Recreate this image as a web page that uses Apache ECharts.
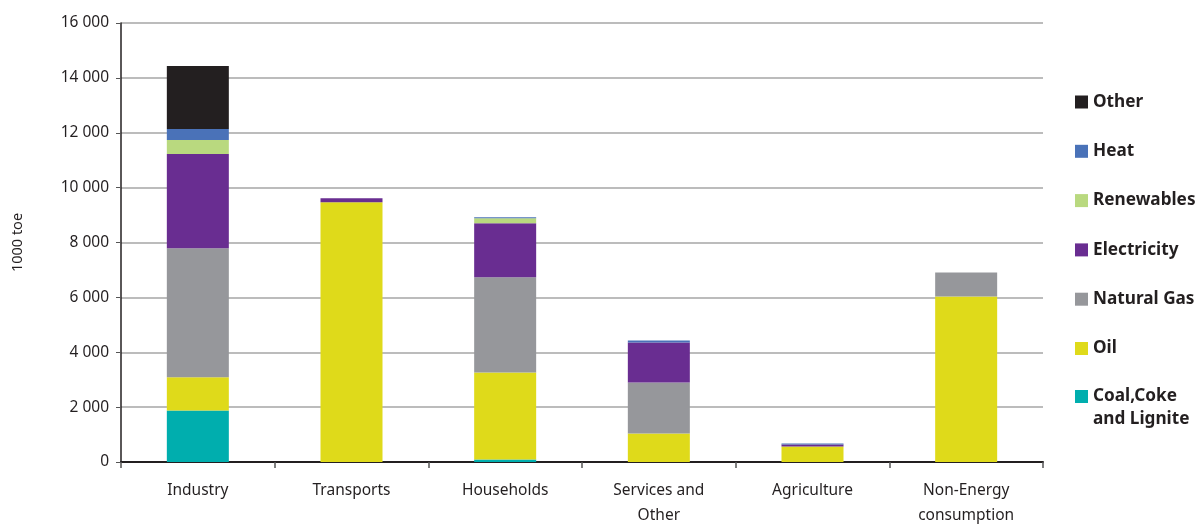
<!DOCTYPE html>
<html>
<head>
<meta charset="utf-8">
<script src="https://cdn.jsdelivr.net/npm/echarts@6/dist/echarts.min.js"></script>
<style>
  html, body { margin: 0; padding: 0; background: #ffffff; }
  #chart { width: 1200px; height: 524px; }
</style>
</head>
<body>
<div id="chart"></div>
<script>
// Final energy consumption by sector and fuel (1000 toe)
const categories = ['Industry', 'Transports', 'Households', 'Services and\nOther', 'Agriculture', 'Non-Energy\nconsumption'];

const coal        = [1878,    0,   90,    0,   0,    0];
const oil         = [1215, 9464, 3174, 1040, 565, 6036];
const naturalGas  = [4693,    0, 3465, 1859,   0,  875];
const electricity = [3439,  146, 1969, 1459,  73,    0];
const renewables  = [ 511,    0,  182,    0,   0,    0];
const heat        = [ 401,    0,   36,   73,  37,    0];
const other       = [2298,    0,    0,    0,   0,    0];

const yTicks = [0, 2000, 4000, 6000, 8000, 10000, 12000, 14000, 16000];

const FONT = '"Noto Sans", "Open Sans", sans-serif';

// stacking order, bottom to top
const seriesDefs = [
  { name: 'Coal,Coke and Lignite', data: coal,        color: '#00aeae' },
  { name: 'Oil',                   data: oil,         color: '#dfda1a' },
  { name: 'Natural Gas',           data: naturalGas,  color: '#96979b' },
  { name: 'Electricity',           data: electricity, color: '#692d91' },
  { name: 'Renewables',            data: renewables,  color: '#b9d97f' },
  { name: 'Heat',                  data: heat,        color: '#4a72b8' },
  { name: 'Other',                 data: other,       color: '#231f20' }
];

function fmtThousands(v) {
  if (v < 1000) return String(v);
  const t = Math.floor(v / 1000);
  const r = String(v % 1000).padStart(3, '0');
  return t + ' ' + r;
}

const legendText = { fontFamily: FONT, fontWeight: 'bold', fontSize: 17.2, color: '#231f20' };

const chart = echarts.init(document.getElementById('chart'), null, { renderer: 'canvas' });
chart.setOption({
  animation: false,
  backgroundColor: '#ffffff',
  grid: { left: 121, right: 157, top: 23, bottom: 62, containLabel: false, outerBoundsMode: 'none' },
  legend: [
    {
      orient: 'vertical',
      left: 1070,
      top: 88,
      itemWidth: 13,
      itemHeight: 13,
      itemGap: 31.3,
      icon: 'rect',
      selectedMode: false,
      data: ['Other', 'Heat', 'Renewables', 'Electricity', 'Natural Gas', 'Oil'],
      textStyle: Object.assign({ lineHeight: 18 }, legendText)
    },
    {
      orient: 'vertical',
      left: 1070,
      top: 357,
      itemWidth: 13,
      itemHeight: 13,
      icon: 'rect',
      selectedMode: false,
      data: ['Coal,Coke and Lignite'],
      // blank first line keeps the swatch level with "Coal,Coke"
      formatter: function () { return '\u00a0\nCoal,Coke\nand Lignite'; },
      textStyle: Object.assign({ lineHeight: 23 }, legendText)
    }
  ],
  xAxis: {
    type: 'category',
    data: categories,
    axisLine: { lineStyle: { color: '#231f20', width: 2 } },
    axisTick: { show: true, length: 6, lineStyle: { color: '#555555', width: 1.5 } },
    axisLabel: {
      fontFamily: FONT, fontSize: 15.5, color: '#231f20',
      margin: 16, lineHeight: 25, interval: 0
    }
  },
  yAxis: {
    type: 'value',
    min: 0,
    max: 16000,
    interval: 2000,
    name: '1000 toe',
    nameLocation: 'middle',
    nameGap: 96,
    nameTextStyle: { fontFamily: FONT, fontSize: 14.5, color: '#231f20' },
    axisLine: { show: true, lineStyle: { color: '#231f20', width: 1.5 } },
    axisTick: { show: true, length: 5, lineStyle: { color: '#555555', width: 1 } },
    axisLabel: {
      fontFamily: FONT, fontSize: 15.5, color: '#231f20', margin: 12,
      formatter: function (v) { return yTicks.indexOf(v) >= 0 ? fmtThousands(v) : ''; }
    },
    splitLine: { show: true, lineStyle: { color: '#a6a6a6', width: 1.5 } }
  },
  series: seriesDefs.map(function (s) {
    return {
      name: s.name,
      type: 'bar',
      stack: 'total',
      barWidth: 62,
      data: s.data,
      itemStyle: { color: s.color },
      emphasis: { disabled: true }
    };
  })
});
</script>
</body>
</html>
